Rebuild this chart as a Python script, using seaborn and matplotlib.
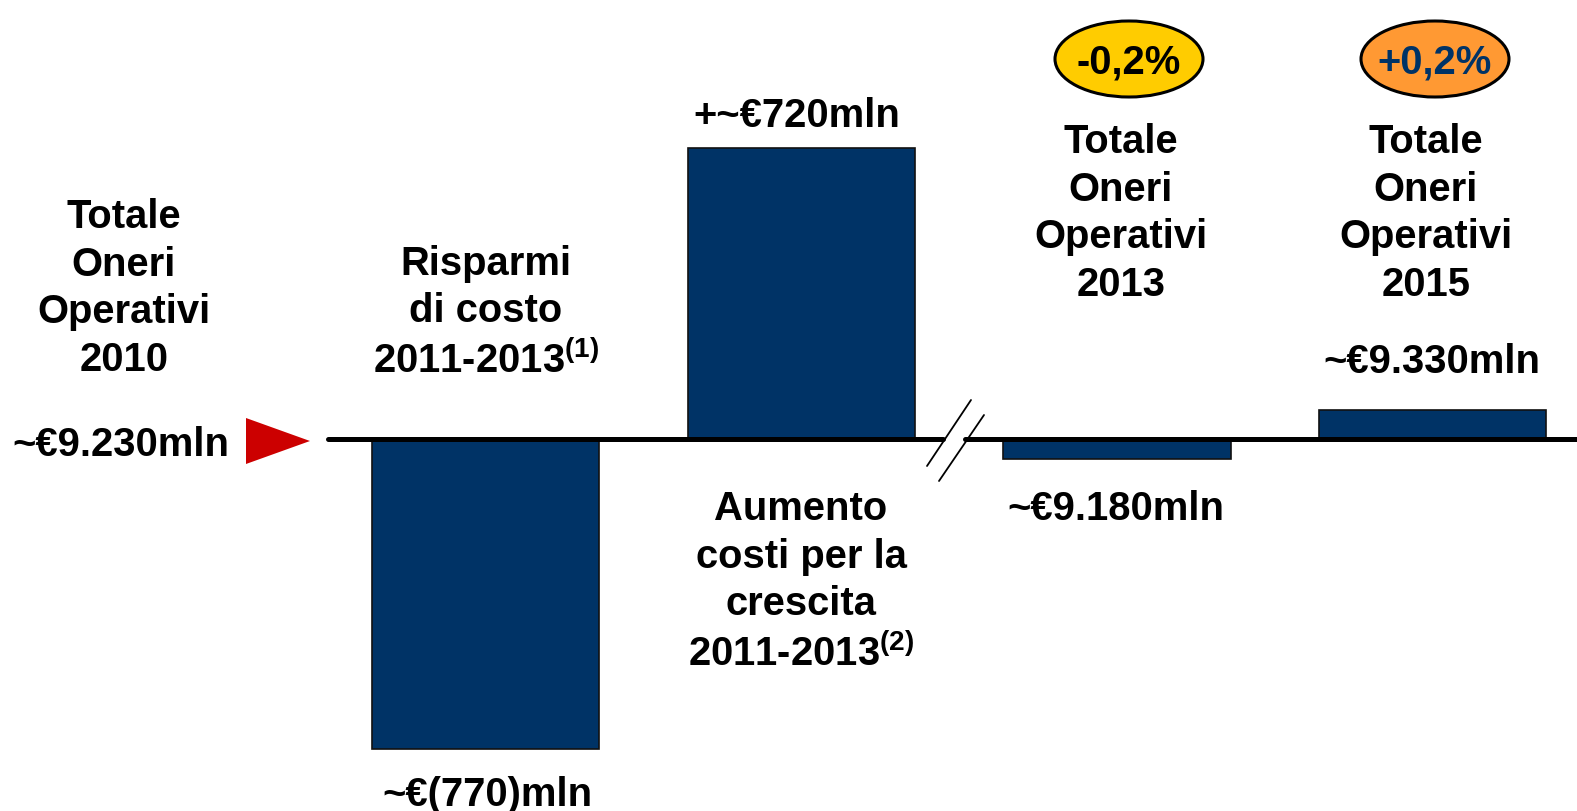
import matplotlib
matplotlib.use("Agg")
import matplotlib.pyplot as plt
import seaborn as sns
import pandas as pd
from matplotlib.patches import Ellipse, Polygon

# dati (mln di euro, variazione rispetto al 2010)
voci = ["Risparmi", "Aumento", "2013", "2015"]
variazioni = [-770, 720, -50, 70]
etichette_valore = ["~€(770)mln", "+~€720mln", "~€9.180mln", "~€9.330mln"]
etichette_voce = [
    "Risparmi\ndi costo\n2011-2013$^{(1)}$",
    "Aumento\ncosti per la\ncrescita\n2011-2013$^{(2)}$",
    "Totale\nOneri\nOperativi\n2013",
    "Totale\nOneri\nOperativi\n2015",
]
base_label = "Totale\nOneri\nOperativi\n2010"
base_valore = "~€9.230mln"
badge_testo = ["-0,2%", "+0,2%"]
badge_colori = ["#FFCC00", "#FF9933"]
badge_testo_colori = ["#000000", "#003366"]

BLU = "#003366"

sns.set_theme(style="white")
plt.rcParams["font.family"] = ["Liberation Sans", "DejaVu Sans"]
plt.rcParams["font.weight"] = "bold"
plt.rcParams["text.color"] = "black"
plt.rcParams["mathtext.fontset"] = "custom"
plt.rcParams["mathtext.rm"] = "Liberation Sans:bold"
plt.rcParams["mathtext.it"] = "Liberation Sans:bold"
plt.rcParams["mathtext.bf"] = "Liberation Sans:bold"
plt.rcParams["mathtext.default"] = "rm"

W, H = 1577, 812
fig = plt.figure(figsize=(W / 100, H / 100), dpi=100)
ax = fig.add_axes([0, 0, 1, 1])

# scala: pixel dell'immagine -> coordinate dati
PX_BAR = 315.6     # distanza tra barre
X0 = 485.8         # centro prima barra
Y0 = 439.5         # linea base
PX_MLN = 0.4030    # pixel per mln


def dx(px):
    return (px - X0) / PX_BAR


def dy(py):
    return (Y0 - py) / PX_MLN


df = pd.DataFrame({"voce": voci, "valore": variazioni})
sns.barplot(data=df, x="voce", y="valore", color=BLU, saturation=1,
            width=0.72, edgecolor="#111111", linewidth=1.2, ax=ax)

ax.set_xlim(dx(0), dx(W))
ax.set_ylim(dy(H), dy(0))
ax.axis("off")

FS = 28.8
LS = 1.32

# linea base con interruzione
ax.plot([dx(328), dx(943)], [0, 0], color="black", lw=3.6,
        solid_capstyle="round", zorder=3)
ax.plot([dx(965), dx(W + 5)], [0, 0], color="black", lw=3.6, zorder=3)
ax.plot([dx(927), dx(971)], [dy(467), dy(401)], color="black", lw=1.3, zorder=4)
ax.plot([dx(939), dx(984)], [dy(482), dy(416)], color="black", lw=1.3, zorder=4)

# triangolo rosso
tri = Polygon([(dx(246), dy(419)), (dx(246), dy(465)), (dx(310), dy(442))],
              closed=True, color="#CC0000", lw=0)
ax.add_patch(tri)

ax.text(dx(124), dy(371), base_label, ha="center", va="baseline",
        fontsize=FS, fontweight="bold", linespacing=LS)
ax.text(dx(229), dy(456), base_valore, ha="right", va="baseline",
        fontsize=FS, fontweight="bold")

# etichette voci (posizione = linea di base dell'ultima riga)
pos_voce = [(486, 373), (801, 666), (1121, 296), (1426, 296)]
for (px, py), lab in zip(pos_voce, etichette_voce):
    ax.text(dx(px), dy(py), lab, ha="center", va="baseline",
            fontsize=FS, fontweight="bold", linespacing=LS)

# etichette valori
pos_valore = [(487, 806), (797, 127), (1116, 520), (1432, 373)]
for (px, py), lab in zip(pos_valore, etichette_valore):
    ax.text(dx(px), dy(py), lab, ha="center", va="baseline",
            fontsize=FS, fontweight="bold")

# ovali con variazione %
pos_badge = [1129, 1435]
for cx, t, fc, tc in zip(pos_badge, badge_testo, badge_colori, badge_testo_colori):
    e = Ellipse((dx(cx), dy(60)), width=148 / PX_BAR, height=76 / PX_MLN,
                facecolor=fc, edgecolor="black", lw=2.2, zorder=5)
    ax.add_patch(e)
    ax.text(dx(cx), dy(74), t, ha="center", va="baseline", color=tc,
            fontsize=FS, fontweight="bold", zorder=6)

fig.savefig("out.png", dpi=100)
